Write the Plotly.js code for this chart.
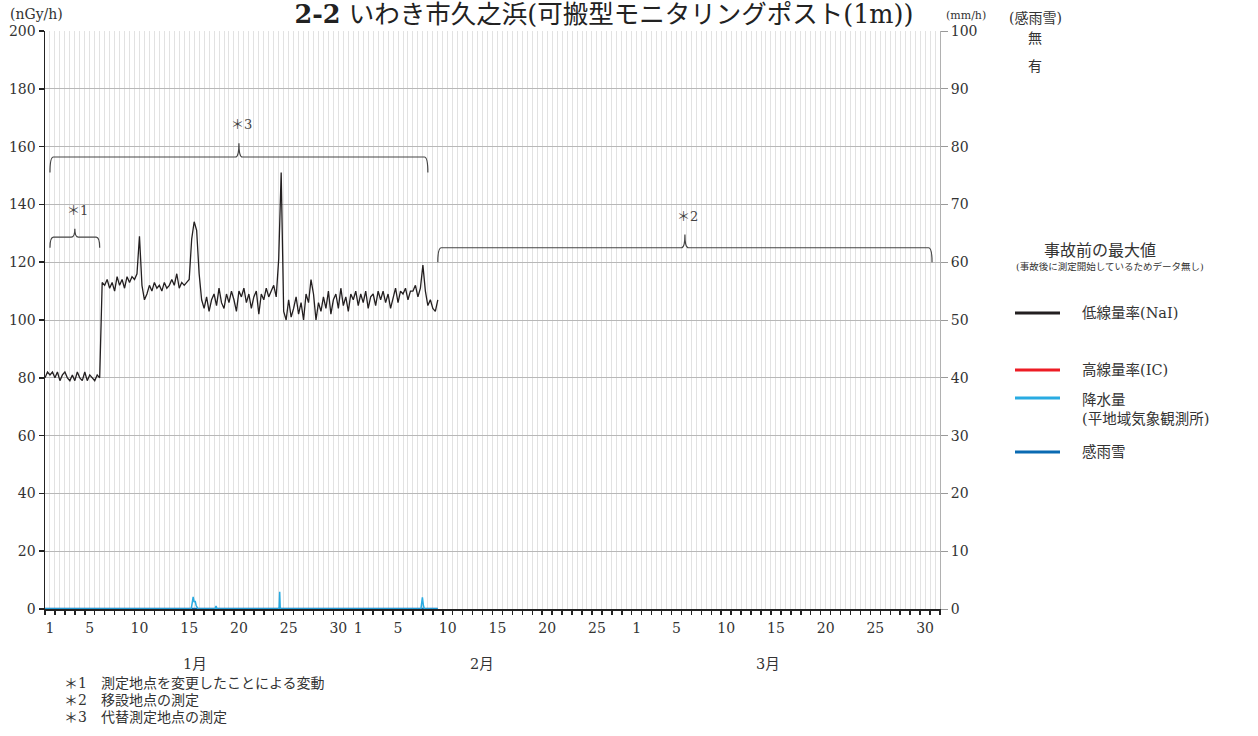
<!DOCTYPE html>
<html>
<head>
<meta charset="utf-8">
<script src="https://cdn.plot.ly/plotly-3.0.1.min.js"></script>
<style>html,body{margin:0;padding:0;background:#fff;}#chart{width:1258px;height:736px;}</style>
</head>
<body>
<div id="chart"></div>
<script>
// ---- Data (x = days since Jan 1 00:00) ----
// Low dose rate (NaI), nGy/h, sampled every 6 hours from Jan 1 00:00
const naiStep = 0.25;
const naiValues = [
  80,82,81,82, 80,82,79,81, 82,80,79,81, 79,82,80,79, 82,79,81,80,
  79,81,80,113, 112,114,111,113, 110,115,112,114, 111,115,113,115, 114,116,129,112,
  107,109,112,110, 113,111,112,110, 113,111,112,114, 112,116,111,113, 112,113,114,128,
  134,131,116,107, 104,108,103,107, 109,105,111,106, 104,109,106,110, 107,103,110,108,
  111,106,109,104, 108,110,102,109, 107,111,108,110, 112,108,121,151, 103,100,107,101,
  104,108,102,106, 100,109,106,114, 109,100,106,103, 108,104,110,102, 107,109,104,111,
  105,108,103,109, 107,110,105,109, 106,110,104,108, 109,105,110,107, 110,106,109,104,
  108,111,106,110, 109,111,107,110, 110,112,108,111, 119,110,105,107, 104,103,107
];
// Precipitation (mm/h)
const precipDay = [0, 14.7, 14.8, 14.9, 15.0, 15.1, 15.2, 15.3, 15.4, 17.1, 17.2, 17.3, 23.5, 23.55, 23.6, 23.65, 23.7, 37.8, 37.95, 38.05, 38.15, 39.5];
const precipMm  = [0, 0,    1.0,  2.1,  1.2,  1.4,  0.6,  0.3,  0,    0,    0.5,  0,    0,    0.4,   3.0,  0.3,   0,    0,    2.0,   0.6,   0,     0];
// Rain/snow sensing (none = 0)
const senseDay = [0, 39.5];
const senseVal = [0, 0];

// Tick labels (day index, label)
const dayTickIdx  = [0,4,9,14,19,24,29, 31,35,40,45,50,55, 59,63,68,73,78,83,88];
const dayTickText = ['1','5','10','15','20','25','30','1','5','10','15','20','25','1','5','10','15','20','25','30'];
const monthLabels = ['1月','2月','3月'];
const footnotes = ['＊1　測定地点を変更したことによる変動','＊2　移設地点の測定','＊3　代替測定地点の測定'];
// Brackets: [startDay, endDay, level, peak, endLevel, label]
const brackets = [
  [0.5, 5.5, 128.7, 131.6, 125.0, '＊1'],
  [0.5, 38.5, 156.4, 161.2, 151.0, '＊3'],
  [39.5, 89.2, 125.0, 129.6, 120.0, '＊2']
];
const legendItems = [
  ['低線量率(NaI)', '#231f20'],
  ['高線量率(IC)', '#ed1c24'],
  ['降水量<br>(平地域気象観測所)', '#29abe2'],
  ['感雨雪', '#0a6ab2']
];

// ---- Layout helpers ----
const L = 45, R = 940, T = 31, B = 609, W = 1258, H = 736;
const px = x => (x - L) / (R - L);
const py = y => (B - y) / (B - T);
const FONT = 'DejaVu Serif, Noto Sans CJK JP';
const TXT = '#333';

const naiX = naiValues.map((v, i) => i * naiStep);

const traces = [
  {x: senseDay, y: senseVal, xaxis:'x', yaxis:'y2', mode:'lines', line:{color:'#0a6ab2', width:2.5}, name:'感雨雪', showlegend:false, hoverinfo:'skip'},
  {x: precipDay, y: precipMm, xaxis:'x', yaxis:'y2', mode:'lines', line:{color:'#29abe2', width:1.5}, name:'降水量', showlegend:false},
  {x: naiX, y: naiValues, xaxis:'x', yaxis:'y', mode:'lines', line:{color:'#231f20', width:1.3}, name:'低線量率(NaI)', showlegend:false},
  {x:[null], y:[null], xaxis:'x2', yaxis:'y', mode:'lines', showlegend:false, hoverinfo:'skip'}
];

const shapes = [];
const annotations = [];

brackets.forEach(b => {
  const [x0, x1, lv, pk, en, lab] = b;
  const xm = (x0 + x1) / 2;
  const dx = 0.35;
  const path = `M ${x0},${en} Q ${x0},${lv} ${x0+dx},${lv} L ${xm-dx},${lv} Q ${xm},${lv} ${xm},${pk} Q ${xm},${lv} ${xm+dx},${lv} L ${x1-dx},${lv} Q ${x1},${lv} ${x1},${en}`;
  shapes.push({type:'path', xref:'x', yref:'y', path: path, line:{color:'#444', width:1.2}});
  annotations.push({xref:'x', yref:'y', x: xm + 0.3, y: pk + 3, text: lab, showarrow:false, yanchor:'bottom', font:{family:FONT, size:13, color:'#444'}});
});

// Legend
legendItems.forEach((it, i) => {
  const ys = [313, 370, 398, 452][i];
  shapes.push({type:'line', xref:'paper', yref:'paper', x0:px(1015), x1:px(1060), y0:py(ys), y1:py(ys), line:{color:it[1], width:3}});
  const ty = i === 2 ? 409 : ys;
  annotations.push({xref:'paper', yref:'paper', x:px(1080), y:py(ty), xanchor:'left', yanchor:'middle', align:'left', text:it[0], showarrow:false, font:{family:FONT, size:14.5, color:TXT}});
});

const addText = (t, x, y, size, anchor) => annotations.push({xref:'paper', yref:'paper', x:px(x), y:py(y), xanchor:anchor||'center', yanchor:'middle', text:t, showarrow:false, font:{family:FONT, size:size, color:TXT}});

addText('(nGy/h)', 36, 14, 14);
addText('(mm/h)', 966, 16, 11);
addText('(感雨雪)', 1035, 18, 14);
addText('無', 1035, 38, 14);
addText('有', 1035, 66, 14);
addText('事故前の最大値', 1100, 250, 16);
addText('(事故後に測定開始しているためデータ無し)', 1110, 266, 9.5);
addText(monthLabels[0], 195, 664, 14.5);
addText(monthLabels[1], 482, 664, 14.5);
addText(monthLabels[2], 768, 664, 14.5);
footnotes.forEach((f, i) => addText(f, 62, 683 + i * 17, 14, 'left'));

const layout = {
  width: W, height: H,
  margin: {l: L, r: W - R, t: T, b: H - B, pad: 0},
  paper_bgcolor: '#fff', plot_bgcolor: '#fff',
  showlegend: false,
  font: {family: FONT},
  title: {text: '<b>2-2</b> いわき市久之浜(可搬型モニタリングポスト(1m))', xref:'container', yref:'container', x: 604/W, y: 1 - 14/H, xanchor:'center', yanchor:'middle', font:{family:FONT, size:25.5, color:'#222'}},
  xaxis: {
    range:[0, 90], tickmode:'linear', tick0:0, dtick:1,
    ticks:'outside', ticklen:4, tickwidth:1.5, tickcolor:'#222',
    showticklabels:false, showgrid:true, gridcolor:'#e2e2e2', gridwidth:1,
    minor:{tick0:0, dtick:0.5, showgrid:true, gridcolor:'#e2e2e2', gridwidth:1},
    showline:true, linecolor:'#222', linewidth:1.5, zeroline:false, fixedrange:true
  },
  xaxis2: {
    overlaying:'x', anchor:'y', side:'bottom', range:[0, 90],
    tickmode:'array', tickvals: dayTickIdx.map(d => d + 0.5), ticktext: dayTickText,
    ticks:'outside', ticklen:6, tickcolor:'rgba(0,0,0,0)',
    showgrid:false, showline:false, zeroline:false,
    tickfont:{family:FONT, size:14, color:TXT}
  },
  yaxis: {
    range:[0, 200], tickmode:'linear', tick0:0, dtick:20,
    ticks:'outside', ticklen:5, tickwidth:1.5, tickcolor:'#222',
    showline:true, linecolor:'#222', linewidth:1.5,
    showgrid:true, gridcolor:'#b8b8b8', gridwidth:1, zeroline:false,
    tickfont:{family:FONT, size:14, color:TXT}
  },
  yaxis2: {
    overlaying:'y', side:'right', anchor:'x', range:[0, 100], tickmode:'linear', tick0:0, dtick:10,
    ticks:'outside', ticklen:7, tickcolor:'#999',
    showline:true, linecolor:'#b0b0b0', linewidth:1,
    showgrid:false, zeroline:false,
    tickfont:{family:FONT, size:14, color:TXT}
  },
  shapes: shapes,
  annotations: annotations
};

Plotly.newPlot('chart', traces, layout, {displayModeBar:false, staticPlot:true});
</script>
</body>
</html>
